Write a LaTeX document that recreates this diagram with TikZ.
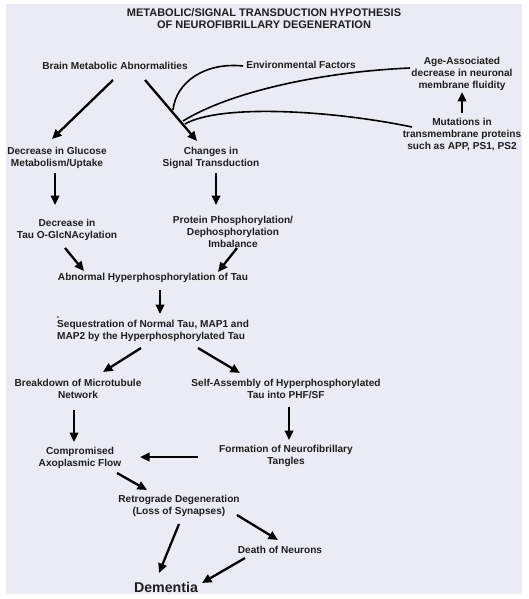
\documentclass[tikz,border=0pt]{standalone}
\usepackage{fontspec}
\setmainfont{Liberation Sans}
\usepackage{tikz}
\usetikzlibrary{arrows.meta}
\definecolor{bgcol}{RGB}{235,235,246}
\definecolor{txtcol}{RGB}{30,30,30}
\tikzset{
  lbl/.style={font=\bfseries\fontsize{10.1}{12}\selectfont, align=center, text=txtcol, inner sep=0pt},
  arr/.style={-{Triangle[length=9.5pt,width=8.5pt]}, line width=2.3pt, black},
  wire/.style={line width=1.6pt, black}
}
\begin{document}
\begin{tikzpicture}[x=1pt, y=-1pt]
\useasboundingbox (0,0) rectangle (528,599);
\fill[bgcol] (6,4) rectangle (522,594);

\node[lbl, font=\bfseries\fontsize{11}{12}\selectfont] (title) at (264,19)
  {METABOLIC/SIGNAL TRANSDUCTION HYPOTHESIS\\OF NEUROFIBRILLARY DEGENERATION};
\node[lbl] (brain) at (115,66) {Brain Metabolic Abnormalities};
\node[lbl] (envf)  at (301,65) {Environmental Factors};
\node[lbl] (age)   at (462,74) {Age-Associated\\decrease in neuronal\\membrane fluidity};
\node[lbl] (mut)   at (462,135) {Mutations in\\transmembrane proteins\\such as APP, PS1, PS2};
\node[lbl] (gluc)  at (57,158) {Decrease in Glucose\\Metabolism/Uptake};
\node[lbl] (sig)   at (211,158) {Changes in\\Signal Transduction};
\node[lbl] (glcn)  at (67,229.5) {Decrease in\\Tau O-GlcNAcylation};
\node[lbl] (phos)  at (233,232) {Protein Phosphorylation/\\Dephosphorylation\\Imbalance};
\node[lbl] (hyper) at (153,278) {Abnormal Hyperphosphorylation of Tau};
\node[lbl, anchor=west, align=left] (seq) at (57,331)
  {Sequestration of Normal Tau, MAP1 and\\MAP2 by the Hyperphosphorylated Tau};
\node[lbl] (micro) at (78,389) {Breakdown of Microtubule\\Network};
\node[lbl] (self)  at (286,389) {Self-Assembly of Hyperphosphorylated\\Tau into PHF/SF};
\node[lbl] (comp)  at (80,458) {Compromised\\Axoplasmic Flow};
\node[lbl] (form)  at (286,455.5) {Formation of Neurofibrillary\\Tangles};
\node[lbl] (retro) at (179,506) {Retrograde Degeneration\\(Loss of Synapses)};
\node[lbl] (death) at (280,550) {Death of Neurons};
\node[lbl, font=\bfseries\fontsize{14.2}{16}\selectfont] (dem) at (166,587) {Dementia};

% stray dot above the sequestration text
\fill[txtcol] ([shift={(1,-14)}]seq.west) circle (0.8);

% where the outside factors meet the signalling arrow
\coordinate (j1) at (173,110);
\coordinate (j2) at (183,121);
\coordinate (j3) at (185,124);

\draw[wire] ([shift={(-58,1)}]envf.center) .. controls (205,62) and (176,82) .. (j1);
\draw[wire] ([shift={(-52,-6)}]age.center) .. controls (320,72) and (230,92) .. (j2);
\draw[wire] ([shift={(-50,-8)}]mut.center) .. controls (330,110) and (220,104) .. (j3);

\path[arr]
([shift={(-2,14)}]brain.center) edge ([shift={(-5,-19)}]gluc.center)
([shift={(30,14)}]brain.center) edge ([shift={(-14,-17)}]sig.center)
([shift={(0,-22)}]mut.center)   edge ([shift={(0,18)}]age.center)
([shift={(-2,15)}]gluc.center)  edge ([shift={(-12,-24.5)}]glcn.center)
([shift={(5,15)}]sig.center)    edge ([shift={(-17,-27)}]phos.center)
([shift={(-2,18.5)}]glcn.center) edge ([shift={(-69,-7)}]hyper.center)
([shift={(4,16)}]phos.center)   edge ([shift={(65,-6)}]hyper.center)
([shift={(7,12)}]hyper.center)  edge ([shift={(103,-17)}]seq.west)
([shift={(84,17)}]seq.west)     edge ([shift={(25,-17)}]micro.center)
([shift={(141,17)}]seq.west)    edge ([shift={(-46,-16)}]self.center)
([shift={(-4,21)}]micro.center) edge ([shift={(-6,-16)}]comp.center)
([shift={(3,18)}]self.center)   edge ([shift={(3,-15.5)}]form.center)
([shift={(-88,1.5)}]form.center) edge ([shift={(60,-1)}]comp.center)
([shift={(37,15)}]comp.center)  edge ([shift={(-32,-16)}]retro.center)
([shift={(0,18)}]retro.center)  edge ([shift={(-7,-14)}]dem.center)
([shift={(58,9)}]retro.center)  edge ([shift={(-2,-10)}]death.center)
([shift={(-35,8)}]death.center) edge ([shift={(36,-4)}]dem.center)
;
\end{tikzpicture}
\end{document}
